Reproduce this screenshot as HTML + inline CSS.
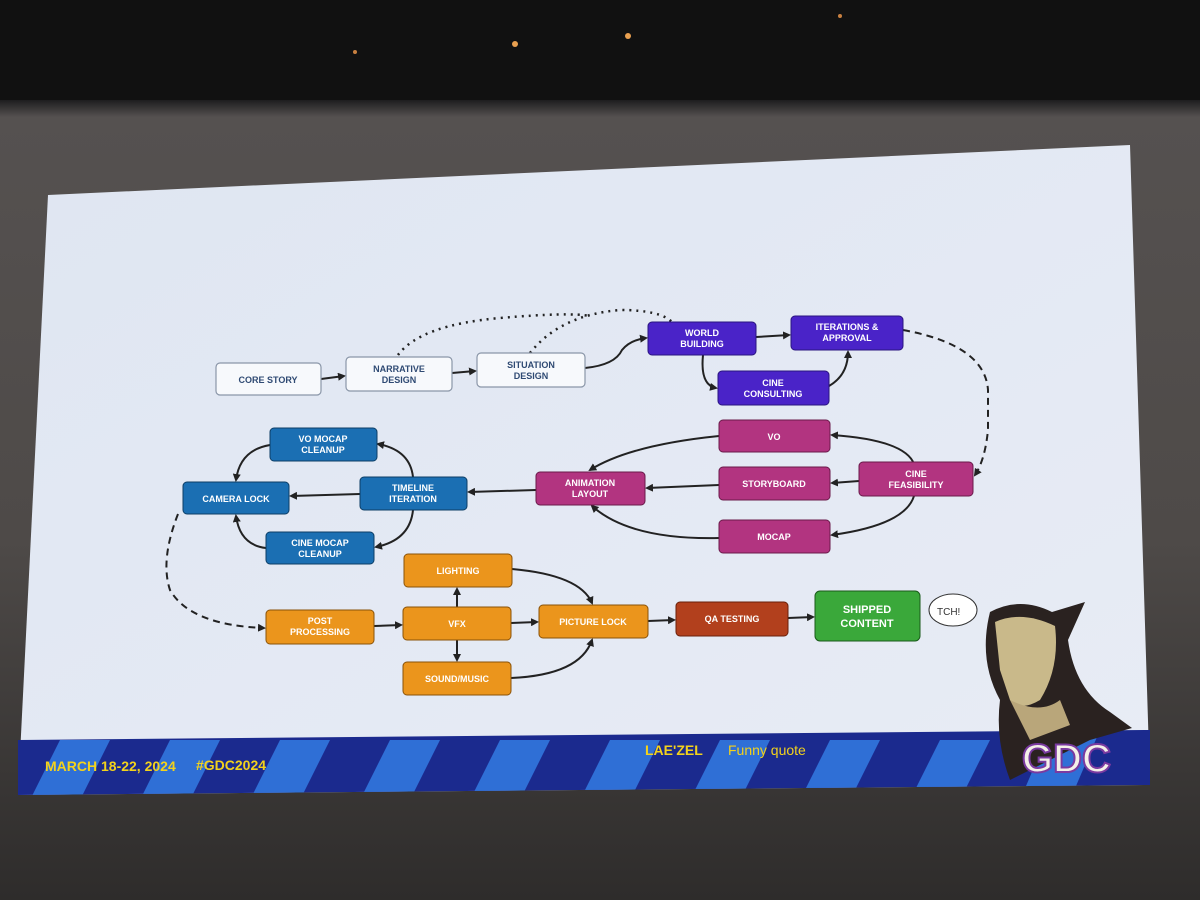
<!DOCTYPE html>
<html><head><meta charset="utf-8"><style>
html,body{margin:0;padding:0;width:1200px;height:900px;overflow:hidden;background:#4a4643}
svg{display:block}
text{font-family:"Liberation Sans",sans-serif;font-weight:bold}
</style></head><body>
<svg width="1200" height="900" viewBox="0 0 1200 900" xmlns="http://www.w3.org/2000/svg">
<defs>
<linearGradient id="wall" x1="0" y1="0" x2="0" y2="1">
<stop offset="0" stop-color="#121214"/><stop offset="0.11" stop-color="#1a1a1c"/><stop offset="0.13" stop-color="#555150"/><stop offset="0.6" stop-color="#4e4a48"/><stop offset="1" stop-color="#2e2c2b"/>
</linearGradient>
<linearGradient id="scr" x1="0" y1="0" x2="1" y2="1">
<stop offset="0" stop-color="#dfe6f2"/><stop offset="1" stop-color="#e8ecf5"/>
</linearGradient>
<marker id="ar" markerWidth="8" markerHeight="8" refX="6" refY="4" orient="auto" markerUnits="userSpaceOnUse"><path d="M0,0 L8,4 L0,8 z" fill="#222"/></marker>
<clipPath id="band"><path d="M18,740 L1150,730 L1150,785 L18,795 z"/></clipPath>
</defs>
<rect width="1200" height="900" fill="url(#wall)"/>
<rect x="0" y="0" width="1200" height="100" fill="#111"/>
<circle cx="515" cy="44" r="3" fill="#e9a050"/><circle cx="628" cy="36" r="3" fill="#e9a050"/><circle cx="355" cy="52" r="2" fill="#c88040"/><circle cx="840" cy="16" r="2" fill="#c88040"/>
<path d="M48,195 L1130,145 L1150,785 L18,795 z" fill="url(#scr)"/>
<g clip-path="url(#band)">
<rect x="0" y="720" width="1200" height="90" fill="#1b2a8e"/>
<g fill="#2f6fd6">
<path d="M60,740 L110,740 L80,800 L30,800z"/><path d="M170,740 L220,740 L190,800 L140,800z"/><path d="M280,740 L330,740 L300,800 L250,800z"/><path d="M390,740 L440,740 L410,800 L360,800z"/><path d="M500,740 L550,740 L520,800 L470,800z"/><path d="M610,740 L660,740 L630,800 L580,800z"/><path d="M720,740 L770,740 L740,800 L690,800z"/><path d="M830,740 L880,740 L850,800 L800,800z"/><path d="M940,740 L990,740 L960,800 L910,800z"/><path d="M1050,730 L1100,730 L1070,800 L1020,800z"/>
</g>
</g>
<text x="45" y="771" font-size="14" fill="#f3d21c">MARCH 18-22, 2024</text>
<text x="196" y="770" font-size="14" fill="#f3d21c">#GDC2024</text>
<text x="645" y="755" font-size="14" fill="#f3d21c">LAE'ZEL</text>
<text x="728" y="755" font-size="14" fill="#f3d21c" style="font-weight:normal">Funny quote</text>
<!-- character -->
<path d="M990,612 Q1020,596 1052,612 L1085,602 L1068,640 Q1075,690 1110,712 L1132,728 L1090,740 L1010,780 Q995,740 1000,700 Q978,660 990,612z" fill="#2a2220"/>
<path d="M995,622 Q1022,610 1055,626 Q1060,668 1040,700 Q1020,712 1010,700 L1000,670z" fill="#c9b98a"/>
<path d="M1010,700 Q1040,715 1060,700 L1070,725 L1030,740z" fill="#b9a67a"/>
<text x="1022" y="772" font-size="40" fill="#f4f0e8" stroke="#7a3aa0" stroke-width="2">GDC</text>
<ellipse cx="953" cy="610" rx="24" ry="16" fill="#fff" stroke="#333"/>
<text x="937" y="615" font-size="10" fill="#333" style="font-weight:normal">TCH!</text>
<g fill="none" stroke="#222" stroke-width="2">
<line x1="321" y1="379" x2="344" y2="376" marker-end="url(#ar)"/>
<line x1="452" y1="373" x2="475" y2="371" marker-end="url(#ar)"/>
<path d="M585,368 Q615,365 622,350 Q630,340 646,338" marker-end="url(#ar)"/>
<line x1="756" y1="337" x2="789" y2="335" marker-end="url(#ar)"/>
<path d="M703,355 Q700,385 716,388" marker-end="url(#ar)"/>
<path d="M829,386 Q848,375 848,352" marker-end="url(#ar)"/>
<path d="M903,330 Q985,345 988,390 L988,430 Q985,460 975,475" stroke-dasharray="7,5" marker-end="url(#ar)"/>
<path d="M914,464 Q905,440 832,435" marker-end="url(#ar)"/>
<line x1="859" y1="481" x2="832" y2="483" marker-end="url(#ar)"/>
<path d="M914,496 Q905,525 832,535" marker-end="url(#ar)"/>
<path d="M719,436 Q630,445 590,470" marker-end="url(#ar)"/>
<line x1="719" y1="485" x2="647" y2="488" marker-end="url(#ar)"/>
<path d="M719,538 Q630,540 592,506" marker-end="url(#ar)"/>
<line x1="536" y1="490" x2="469" y2="492" marker-end="url(#ar)"/>
<path d="M413,477 Q410,450 378,444" marker-end="url(#ar)"/>
<line x1="360" y1="494" x2="291" y2="496" marker-end="url(#ar)"/>
<path d="M413,510 Q410,540 376,547" marker-end="url(#ar)"/>
<path d="M270,445 Q240,450 236,480" marker-end="url(#ar)"/>
<path d="M266,548 Q240,545 236,516" marker-end="url(#ar)"/>
<path d="M178,514 Q160,560 170,590 Q190,625 264,628" stroke-dasharray="7,5" marker-end="url(#ar)"/>
<line x1="374" y1="626" x2="401" y2="625" marker-end="url(#ar)"/>
<line x1="457" y1="607" x2="457" y2="589" marker-end="url(#ar)"/>
<line x1="457" y1="640" x2="457" y2="660" marker-end="url(#ar)"/>
<line x1="511" y1="623" x2="537" y2="622" marker-end="url(#ar)"/>
<path d="M512,569 Q580,575 592,603" marker-end="url(#ar)"/>
<path d="M511,678 Q580,675 592,640" marker-end="url(#ar)"/>
<line x1="648" y1="621" x2="674" y2="620" marker-end="url(#ar)"/>
<line x1="788" y1="618" x2="813" y2="617" marker-end="url(#ar)"/>
<path d="M398,355 Q420,325 500,318 Q570,312 590,316" stroke-dasharray="2,5" stroke-width="2.5"/>
<path d="M530,353 Q560,315 620,310 Q660,310 672,322" stroke-dasharray="2,5" stroke-width="2.5"/>
</g>
<g font-size="9" text-anchor="middle">
<g fill="#f7f9fc" stroke="#8a96a8" stroke-width="1.2">
<rect x="216" y="363" width="105" height="32" rx="4"/><rect x="346" y="357" width="106" height="34" rx="4"/><rect x="477" y="353" width="108" height="34" rx="4"/>
</g>
<g fill="#2f4a73"><text x="268" y="383">CORE STORY</text><text x="399" y="372">NARRATIVE</text><text x="399" y="383">DESIGN</text><text x="531" y="368">SITUATION</text><text x="531" y="379">DESIGN</text></g>
<g fill="#4a23c8" stroke="#2a1580"><rect x="648" y="322" width="108" height="33" rx="4"/><rect x="791" y="316" width="112" height="34" rx="4"/><rect x="718" y="371" width="111" height="34" rx="4"/></g>
<g fill="#b23480" stroke="#6a1a4a"><rect x="719" y="420" width="111" height="32" rx="4"/><rect x="719" y="467" width="111" height="33" rx="4"/><rect x="719" y="520" width="111" height="33" rx="4"/><rect x="859" y="462" width="114" height="34" rx="4"/><rect x="536" y="472" width="109" height="33" rx="4"/></g>
<g fill="#1b6fb3" stroke="#0d3e66"><rect x="360" y="477" width="107" height="33" rx="4"/><rect x="270" y="428" width="107" height="33" rx="4"/><rect x="183" y="482" width="106" height="32" rx="4"/><rect x="266" y="532" width="108" height="32" rx="4"/></g>
<g fill="#eb951c" stroke="#8a5208"><rect x="404" y="554" width="108" height="33" rx="4"/><rect x="266" y="610" width="108" height="34" rx="4"/><rect x="403" y="607" width="108" height="33" rx="4"/><rect x="403" y="662" width="108" height="33" rx="4"/><rect x="539" y="605" width="109" height="33" rx="4"/></g>
<rect x="676" y="602" width="112" height="34" rx="4" fill="#b2401d" stroke="#6a200a"/>
<rect x="815" y="591" width="105" height="50" rx="5" fill="#3aa83a" stroke="#1a5a1a"/>
<g fill="#fff">
<text x="702" y="336">WORLD</text><text x="702" y="347">BUILDING</text>
<text x="847" y="330">ITERATIONS &amp;</text><text x="847" y="341">APPROVAL</text>
<text x="773" y="386">CINE</text><text x="773" y="397">CONSULTING</text>
<text x="774" y="440">VO</text><text x="774" y="487">STORYBOARD</text><text x="774" y="540">MOCAP</text>
<text x="916" y="477">CINE</text><text x="916" y="488">FEASIBILITY</text>
<text x="590" y="486">ANIMATION</text><text x="590" y="497">LAYOUT</text>
<text x="413" y="491">TIMELINE</text><text x="413" y="502">ITERATION</text>
<text x="323" y="442">VO MOCAP</text><text x="323" y="453">CLEANUP</text>
<text x="236" y="502">CAMERA LOCK</text>
<text x="320" y="546">CINE MOCAP</text><text x="320" y="557">CLEANUP</text>
<text x="458" y="574">LIGHTING</text>
<text x="320" y="624">POST</text><text x="320" y="635">PROCESSING</text>
<text x="457" y="627">VFX</text><text x="457" y="682">SOUND/MUSIC</text>
<text x="593" y="625">PICTURE LOCK</text>
<text x="732" y="622">QA TESTING</text>
<text x="867" y="613" font-size="11">SHIPPED</text><text x="867" y="627" font-size="11">CONTENT</text>
</g>
</g>
</svg>
</body></html>
